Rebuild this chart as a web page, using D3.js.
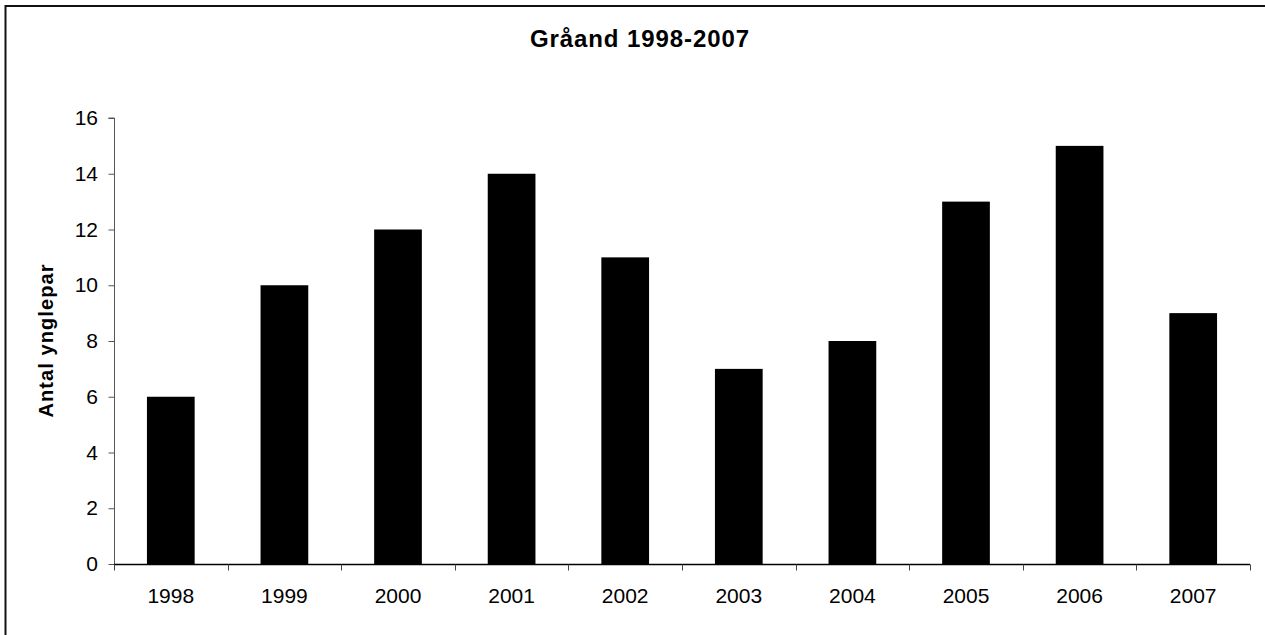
<!DOCTYPE html>
<html>
<head>
<meta charset="utf-8">
<script src="https://cdn.jsdelivr.net/npm/d3@7"></script>
<style>
  html, body { margin: 0; padding: 0; background: #fff; }
  svg { display: block; font-family: "Liberation Sans", Arial, Helvetica, sans-serif; }
</style>
</head>
<body>
<svg id="chart" width="1265" height="635"></svg>
<script>
const years = ["1998","1999","2000","2001","2002","2003","2004","2005","2006","2007"];
const values = [6, 10, 12, 14, 11, 7, 8, 13, 15, 9];
const yTicks = [0, 2, 4, 6, 8, 10, 12, 14, 16];
const titleText = "Gråand 1998-2007";
const yLabelText = "Antal ynglepar";

const svg = d3.select("#chart");
const m = { left: 114, right: 1250, top: 118, bottom: 564 };

// outer border (right/bottom extend past the visible area)
svg.append("rect")
  .attr("x", 5.5).attr("y", 6).attr("width", 1300).attr("height", 700)
  .attr("fill", "none").attr("stroke", "#111").attr("stroke-width", 2);

const x = d3.scaleBand().domain(years).range([m.left, m.right]).paddingInner(0.58).paddingOuter(0.29);
const xBand = d3.scaleBand().domain(years).range([m.left, m.right]);
const y = d3.scaleLinear().domain([0, 16]).range([m.bottom, m.top]);

// bars
svg.append("g").selectAll("rect").data(values).join("rect")
  .attr("x", (d, i) => x(years[i]))
  .attr("width", x.bandwidth())
  .attr("y", d => y(d))
  .attr("height", d => y(0) - y(d))
  .attr("fill", "#000");

// y axis
const yAxis = svg.append("g").attr("transform", `translate(${m.left + 0.5},0)`)
  .call(d3.axisLeft(y).tickValues(yTicks).tickSize(6).tickPadding(10).tickFormat(d3.format("d")));
yAxis.select(".domain").attr("stroke", "#555").attr("d", `M-6,${y(16)}H0V${y(0)}`);
yAxis.selectAll(".tick line").attr("stroke", "#555");
yAxis.selectAll(".tick text").attr("font-size", 21).attr("fill", "#000").attr("x", -16.5)
  .attr("font-family", "'Liberation Sans', Arial, sans-serif");

// x axis
const xAxisG = svg.append("g").attr("transform", `translate(0,${m.bottom + 0.5})`);
xAxisG.append("line").attr("x1", m.left).attr("x2", m.right).attr("y1", 0).attr("y2", 0)
  .attr("stroke", "#000").attr("stroke-width", 1.5);
const boundaries = years.map(d => xBand(d)).concat([m.right]);
xAxisG.selectAll("line.tk").data(boundaries).join("line").attr("class", "tk")
  .attr("x1", d => Math.round(d) + 0.5).attr("x2", d => Math.round(d) + 0.5)
  .attr("y1", 0).attr("y2", 6).attr("stroke", "#444");
xAxisG.selectAll("text").data(years).join("text")
  .attr("x", d => xBand(d) + xBand.bandwidth() / 2)
  .attr("y", 38.5)
  .attr("text-anchor", "middle")
  .attr("font-size", 21)
  .text(d => d);

// title
svg.append("text")
  .attr("x", 639.5).attr("y", 47)
  .attr("text-anchor", "middle")
  .attr("font-size", 24).attr("font-weight", "bold")
  .attr("textLength", 219).attr("lengthAdjust", "spacing")
  .text(titleText);

// y label
svg.append("text")
  .attr("transform", `translate(53,${(y(0) + y(16)) / 2}) rotate(-90)`)
  .attr("text-anchor", "middle")
  .attr("font-size", 20).attr("font-weight", "bold")
  .attr("textLength", 153).attr("lengthAdjust", "spacing")
  .text(yLabelText);
</script>
</body>
</html>
